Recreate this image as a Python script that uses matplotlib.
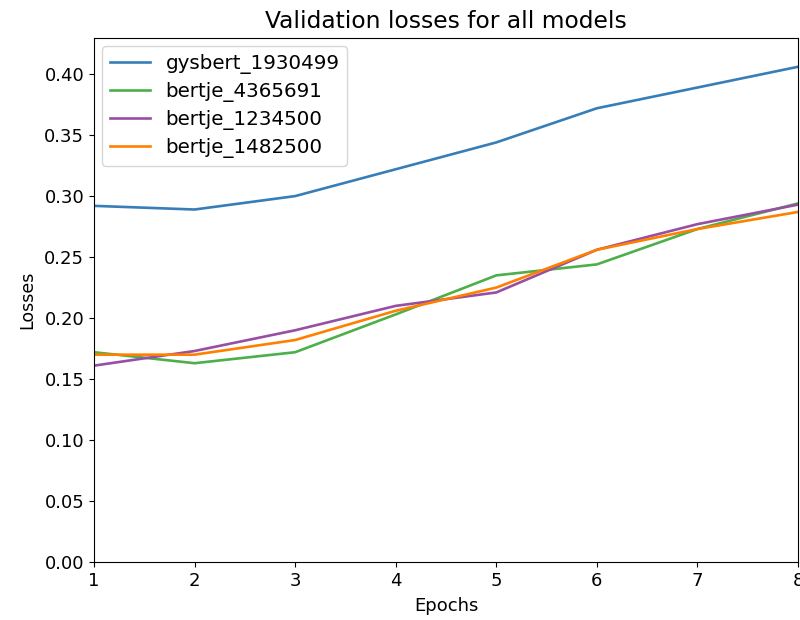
import matplotlib
matplotlib.use("Agg")
import matplotlib.pyplot as plt

epochs = [1, 2, 3, 4, 5, 6, 7, 8]
gysbert_1930499 = [0.292, 0.289, 0.300, 0.322, 0.344, 0.372, 0.389, 0.406]
bertje_4365691 = [0.172, 0.163, 0.172, 0.203, 0.235, 0.244, 0.273, 0.294]
bertje_1234500 = [0.161, 0.173, 0.190, 0.210, 0.221, 0.256, 0.277, 0.293]
bertje_1482500 = [0.170, 0.170, 0.182, 0.206, 0.225, 0.256, 0.273, 0.287]

plt.rcParams['font.size'] = 13

fig = plt.figure(figsize=(8, 6.2), dpi=100)
ax = fig.add_axes([0.1175, 0.0935, 0.88, 0.845])

ax.plot(epochs, gysbert_1930499, color='#377eb8', lw=1.9, label='gysbert_1930499')
ax.plot(epochs, bertje_4365691, color='#4daf4a', lw=1.9, label='bertje_4365691')
ax.plot(epochs, bertje_1234500, color='#984ea3', lw=1.9, label='bertje_1234500')
ax.plot(epochs, bertje_1482500, color='#ff7f00', lw=1.9, label='bertje_1482500')

ax.set_xlim(1, 8)
ax.set_ylim(0, 0.4295)
ax.set_title('Validation losses for all models', fontsize=16.8, pad=7)
ax.set_xlabel('Epochs', fontsize=13, labelpad=5)
ax.set_ylabel('Losses', fontsize=12.5, labelpad=6)
ax.legend(loc='upper left', fontsize=14.3, handletextpad=0.8, labelspacing=0.4,
          borderaxespad=0.4)

fig.savefig('out.png', dpi=100)
